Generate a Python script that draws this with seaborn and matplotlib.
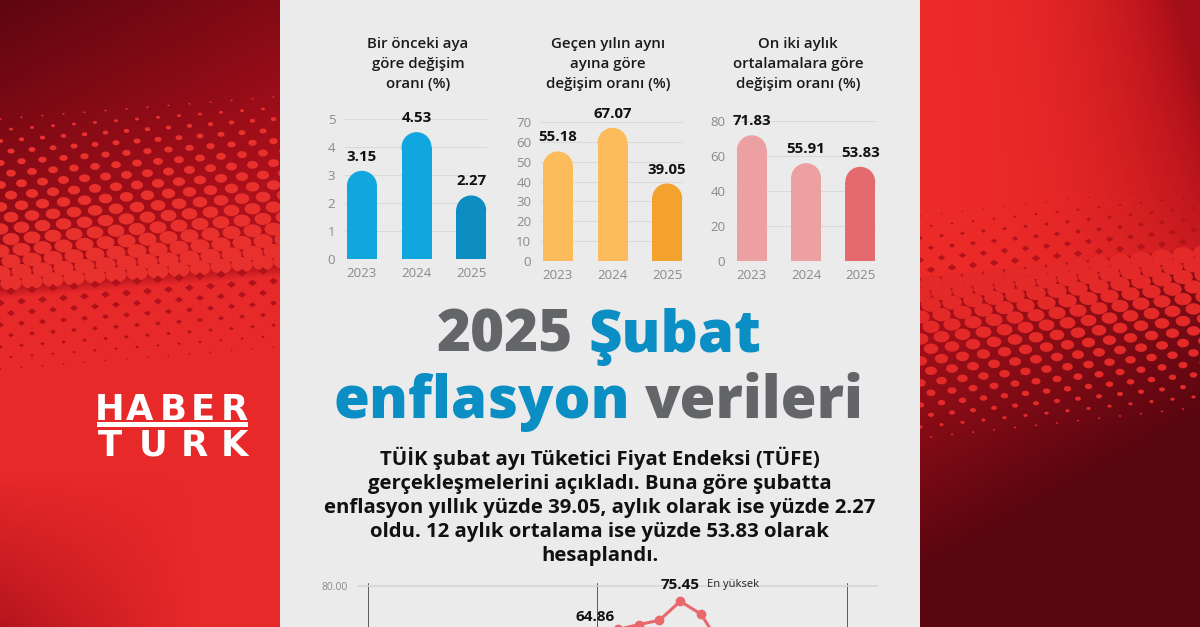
import numpy as np
import pandas as pd
import matplotlib
matplotlib.use("Agg")
import matplotlib.pyplot as plt
import seaborn as sns
from matplotlib.patches import Ellipse, Rectangle
from matplotlib.path import Path
from matplotlib.colors import LinearSegmentedColormap

# --- veriler ---
years = ["2023", "2024", "2025"]
monthly_change = [3.15, 4.53, 2.27]      # bir önceki aya göre
annual_change = [55.18, 67.07, 39.05]    # geçen yılın aynı ayına göre
avg12_change = [71.83, 55.91, 53.83]     # on iki aylık ortalamalara göre

trend_months = ["Şub 23", "Mar 23", "Nis 23", "May 23", "Haz 23", "Tem 23",
                "Ağu 23", "Eyl 23", "Eki 23", "Kas 23", "Ara 23", "Oca 24",
                "Şub 24", "Mar 24", "Nis 24", "May 24", "Haz 24", "Tem 24",
                "Ağu 24", "Eyl 24", "Eki 24", "Kas 24", "Ara 24", "Oca 25",
                "Şub 25"]
trend_annual = [55.18, 50.51, 43.68, 39.59, 38.21, 47.83, 58.94, 61.53, 61.36,
                61.98, 64.77, 64.86, 67.07, 68.50, 69.80, 75.45, 71.60, 61.78,
                51.97, 49.38, 48.58, 47.09, 44.38, 42.12, 39.05]
trend_ticks = [0, 20, 40, 60, 80]

panel_titles = [["Bir önceki aya", "göre değişim", "oranı (%)"],
                ["Geçen yılın aynı", "ayına göre", "değişim oranı (%)"],
                ["On iki aylık", "ortalamalara göre", "değişim oranı (%)"]]
body_lines = ["TÜİK şubat ayı Tüketici Fiyat Endeksi (TÜFE)",
              "gerçekleşmelerini açıkladı. Buna göre şubatta",
              "enflasyon yıllık yüzde 39.05, aylık olarak ise yüzde 2.27",
              "oldu. 12 aylık ortalama ise yüzde 53.83 olarak",
              "hesaplandı."]

sns.set_theme(style="white")
plt.rcParams["font.family"] = ["Open Sans", "DejaVu Sans"]

W, H = 1200, 627
fig = plt.figure(figsize=(12, 6.27), dpi=100)
renderer = fig.canvas.get_renderer()


def add_ax_px(left, top, right, bottom, **kw):
    return fig.add_axes([left / W, 1 - bottom / H, (right - left) / W, (bottom - top) / H], **kw)


def text_width(s, **kw):
    t = fig.text(0, 0, s, **kw)
    w = t.get_window_extent(renderer=renderer).width
    t.remove()
    return w


# --- arka plan: kırmızı yan paneller ---
bg = fig.add_axes([0, 0, 1, 1], zorder=-10)
bg.set_xlim(0, W)
bg.set_ylim(H, 0)
bg.axis("off")

px_x, px_y = np.meshgrid(np.arange(280) + 0.5, np.arange(H) + 0.5)
xn, yn = px_x / 280, px_y / H

# sol panel: üstte koyu, bandın altında parlak kırmızı
L_TOP, L_MID, L_BOT, L_TILT = 108, 292, 385, -0.08
left_mid = L_MID + L_TILT * px_x
blend = np.clip((px_y - left_mid) / 14 + 0.5, 0, 1)
upper = np.clip(0.25 * xn + 1.05 * yn, 0, 0.55)
lower = 1 - 0.4 * np.clip((yn - 0.75) / 0.25, 0, 1) * np.clip(1 - xn / 0.7, 0, 1)
left_cmap = LinearSegmentedColormap.from_list("l", ["#5e0610", "#a80f1a", "#e8292a"])
bg.imshow(upper * (1 - blend) + lower * blend, cmap=left_cmap, vmin=0, vmax=1,
          extent=(0, 280, H, 0), aspect="auto", zorder=1)

# sağ panel: üstte parlak, bandın altında koyulaşan
R_TOP, R_MID, R_BOT, R_TILT = 205, 284, 448, -0.11
right_mid = R_MID + R_TILT * px_x
blend = np.clip((px_y - right_mid) / 14 + 0.5, 0, 1)
upper = np.clip(0.75 * xn ** 2.5 * np.clip(1 - 1.4 * yn, 0, 1), 0, 0.6)
lower = 0.5 + 0.5 * np.clip(0.55 * xn + 1.2 * (yn - 0.45) / 0.55, 0, 1)
right_cmap = LinearSegmentedColormap.from_list("r", ["#ec2a28", "#b5121b", "#5a0610"])
bg.imshow(upper * (1 - blend) + lower * blend, cmap=right_cmap, vmin=0, vmax=1,
          extent=(920, 1200, H, 0), aspect="auto", zorder=1)

theta = np.linspace(0, 2 * np.pi, 40)
oval = Path(np.c_[np.cos(theta), 0.72 * np.sin(theta)])
diamond = Path([(1, 0), (0, 0.75), (-1, 0), (0, -0.75), (1, 0)])


def halftone(x_lo, x_hi, top0, mid0, bot0, tilt, c_up, r_up, m_up, c_low, r_low, m_low):
    for lo, hi, col, rmax, mk, grow in [(top0, mid0, c_up, r_up, m_up, True),
                                        (mid0, bot0, c_low, r_low, m_low, False)]:
        xs, ys, ss = [], [], []
        for j, y in enumerate(np.arange(lo, hi, 11)):
            off = (j % 2) * 10.5
            frac = (y - lo) / (hi - lo)
            r = rmax * (frac ** 0.8 if grow else (1 - frac) ** 0.8)
            if r < 0.5:
                continue
            for x in np.arange(x_lo - 10 + off, x_hi + 10, 21):
                xs.append(x)
                ys.append(y + tilt * (x - x_lo))
                ss.append((2 * r * 0.72) ** 2)
        bg.scatter(xs, ys, s=ss, c=col, marker=mk, linewidths=0, zorder=2)


halftone(0, 280, L_TOP, L_MID, L_BOT, L_TILT, "#e8302d", 11, oval, "#b0121b", 5, diamond)
halftone(920, 1200, R_TOP, R_MID, R_BOT, R_TILT, "#b3131c", 5, diamond, "#e42a29", 11, oval)

bg.add_patch(Rectangle((280, 0), 640, H, facecolor="#ebebeb", lw=0, zorder=5))

# --- HABERTURK logosu ---
logo_font = dict(color="white", fontsize=25.5, fontweight="bold", family="DejaVu Sans",
                 ha="center", va="baseline", zorder=6)
for ch, cx in zip("HABER", [110, 140, 173, 203, 234]):
    bg.text(cx, 419.5, ch, **logo_font)
for ch, cx in zip("TURK", [110, 153, 194, 234]):
    bg.text(cx, 455.5, ch, **logo_font)
bg.add_patch(Rectangle((97, 422), 151, 5, facecolor="white", lw=0, zorder=6))


# --- üst çubuk grafikler ---
def bar_panel(values, colors, box, ymax, step, title, title_x):
    left, top, right, bottom = box
    ax = add_ax_px(left, top, right, bottom)
    ax.set_facecolor("none")
    sns.barplot(x=years, y=values, hue=years, palette=colors, legend=False,
                width=0.55, saturation=1, linewidth=0, ax=ax)
    ax.set_xlim(-0.31, 2.29)
    ax.set_ylim(0, ymax)
    ax.set_yticks(np.arange(0, ymax + step / 2, step))
    ax.yaxis.grid(True, color="#dadada", lw=0.8)
    ax.set_axisbelow(True)
    sns.despine(ax=ax, left=True, bottom=True)
    ax.tick_params(length=0, labelsize=9.5, labelcolor="#8a8a8a")
    ax.tick_params(axis="y", pad=7)
    ax.tick_params(axis="x", pad=6)
    ax.set_xlabel("")
    ax.set_ylabel("")
    ppx = (right - left) / 2.6
    ppy = (bottom - top) / ymax
    for p in list(ax.patches):
        w, h = p.get_width(), p.get_height()
        ry = (w * ppx / 2) / ppy
        p.set_height(h - ry)
        ax.add_patch(Ellipse((p.get_x() + w / 2, h - ry), w, 2 * ry,
                             facecolor=p.get_facecolor(), lw=0))
    for i, v in enumerate(values):
        ax.annotate(f"{v:.2f}", (i, v), xytext=(0, 5), textcoords="offset points",
                    ha="center", va="bottom", fontsize=10.8, fontweight="bold",
                    color="#111111", annotation_clip=False)
    for k, line in enumerate(title):
        fig.text(title_x / W, 1 - (48 + 20 * k) / H, line, ha="center", va="baseline",
                 fontsize=10.8, fontweight=600, color="#1a1a1a")


bar_panel(monthly_change, ["#12a6df", "#12a6df", "#0b8dc1"], (345, 119, 487, 259), 5, 1,
          panel_titles[0], 418)
bar_panel(annual_change, ["#fdbc5b", "#fdbc5b", "#f2a22d"], (541, 122, 683, 261), 70, 10,
          panel_titles[1], 608)
bar_panel(avg12_change, ["#eda0a2", "#eda0a2", "#e46a6e"], (735, 121, 876, 261), 80, 20,
          panel_titles[2], 798)

# --- başlık ---
gray, blue = "#636569", "#0b8ec4"
hs = 40 * 530 / text_width("enflasyon verileri", fontsize=40, fontweight=800)
head = dict(fontsize=hs, fontweight=800, va="baseline")
for (first, c1), (second, c2), base in [(("2025", gray), ("Şubat", blue), 352),
                                        (("enflasyon", blue), ("verileri", gray), 418)]:
    total = text_width(f"{first} {second}", **head)
    x0 = 599 - total / 2
    fig.text(x0 / W, 1 - base / H, first, color=c1, ha="left", **head)
    fig.text((x0 + total) / W, 1 - base / H, second, color=c2, ha="right", **head)

bs = 14 * 555 / text_width(body_lines[2], fontsize=14, fontweight="bold")
for k, line in enumerate(body_lines):
    fig.text(600 / W, 1 - (465 + 24 * k) / H, line, ha="center", va="baseline",
             fontsize=bs, fontweight="bold", color="#111111")

# --- alttaki yıllık enflasyon çizgisi (kısmen görünür) ---
lax = add_ax_px(357, 582.6, 878, 855)
lax.set_facecolor("none")
trend = pd.DataFrame({"ay": trend_months, "sira": range(len(trend_months)),
                      "yillik": trend_annual})
sns.lineplot(data=trend, x="sira", y="yillik", color="#e8686b", lw=2.2, marker="o",
             markersize=7, markeredgewidth=0, ax=lax)
lax.set_xlim(-0.53, 24.5)
lax.set_ylim(0, 81)
lax.set_yticks(trend_ticks)
# yalnızca görüntüye sığan etiketler yazılır (alt kısım kırpılmış)
lax_bottom = 1 - 855 / H
lax_h = (855 - 582.6) / H
lax.set_yticklabels([f"{t:.2f}" if lax_bottom + lax_h * t / 81 > 0.03 else ""
                     for t in trend_ticks])
lax.yaxis.grid(True, color="#d6d6d6", lw=1.2)
lax.set_xticks([])
lax.set_xlabel("")
lax.set_ylabel("")
sns.despine(ax=lax, left=True, bottom=True)
lax.tick_params(length=0, labelsize=7.5, labelcolor="#8a8a8a", pad=7)
for m in ["Şub 23", "Oca 24", "Oca 25"]:
    lax.axvline(trend_months.index(m), color="#5a5a5a", lw=0.7, zorder=0)

peak = int(np.argmax(trend_annual))
lax.annotate(f"{trend_annual[peak]:.2f}", (peak, trend_annual[peak]), xytext=(0, 7),
             textcoords="offset points", ha="center", va="bottom", fontsize=11,
             fontweight="bold", color="#111111", annotation_clip=False)
lax.annotate("En yüksek", (peak, trend_annual[peak]), xytext=(19, 8),
             textcoords="offset points", ha="left", va="bottom", fontsize=8,
             color="#222222", annotation_clip=False)
jan = trend_months.index("Oca 24")
lax.annotate(f"{trend_annual[jan]:.2f}", (jan, trend_annual[jan]), xytext=(-1, 9),
             textcoords="offset points", ha="center", va="bottom", fontsize=11,
             fontweight="bold", color="#111111", annotation_clip=False)

fig.savefig("out.png", dpi=100)
